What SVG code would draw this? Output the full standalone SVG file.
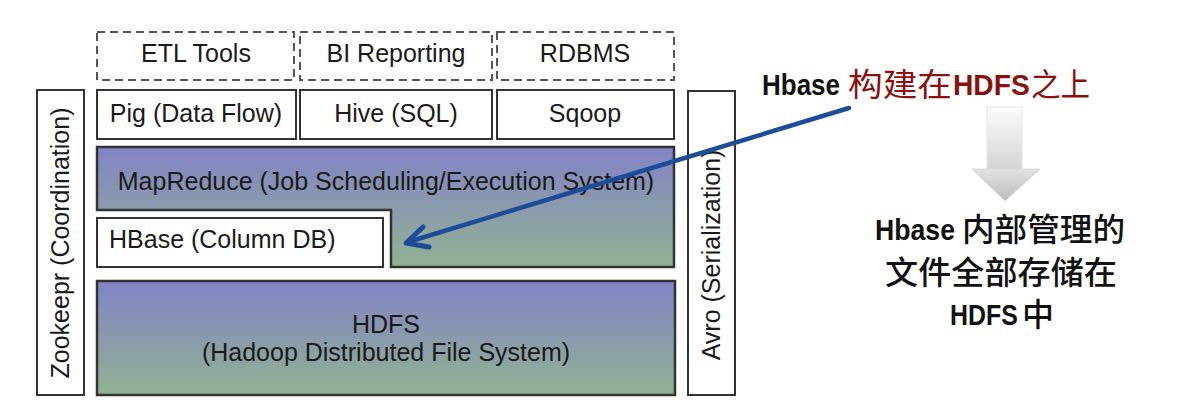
<svg xmlns="http://www.w3.org/2000/svg" width="1180" height="414" viewBox="0 0 1180 414">
<defs>
<style>
.lbl{font-family:"Liberation Sans",Arial,sans-serif;font-size:25px;fill:#1a1a1a}
.mid{text-anchor:middle}
.dash{fill:#fff;stroke:#555;stroke-width:2;stroke-dasharray:8 5}
.box{fill:#fff;stroke:#333;stroke-width:2}
.layer{fill:url(#lg);stroke:#333;stroke-width:2.5}
.cjk{font-family:"Liberation Sans","Noto Sans CJK SC",sans-serif}
.bl{font-weight:bold;font-size:30px}
</style>
<linearGradient id="lg" x1="0" y1="0" x2="0" y2="1">
<stop offset="0" stop-color="#8283c6"/>
<stop offset="1" stop-color="#91b292"/>
</linearGradient>
<linearGradient id="shaft" x1="0" y1="0" x2="0" y2="1">
<stop offset="0" stop-color="#fbfbfb"/>
<stop offset="1" stop-color="#d4d4d4"/>
</linearGradient>
<linearGradient id="head" x1="0" y1="0" x2="0" y2="1">
<stop offset="0" stop-color="#e2e2e2"/>
<stop offset="1" stop-color="#bdbdbd"/>
</linearGradient>
</defs>
<rect width="1180" height="414" fill="#fff"/>

<g id="etl"><rect class="dash" x="97" y="32" width="197" height="48"/><text class="lbl mid" x="196" y="62">ETL Tools</text></g>
<g id="bi"><rect class="dash" x="300" y="32" width="192" height="48"/><text class="lbl mid" x="396" y="62">BI Reporting</text></g>
<g id="rdbms"><rect class="dash" x="497" y="32" width="177" height="48"/><text class="lbl mid" x="585" y="62">RDBMS</text></g>

<g id="pig"><rect class="box" x="97" y="90" width="199" height="49"/><text class="lbl mid" x="196" y="122">Pig (Data Flow)</text></g>
<g id="hive"><rect class="box" x="300" y="90" width="192" height="49"/><text class="lbl mid" x="396" y="122">Hive (SQL)</text></g>
<g id="sqoop"><rect class="box" x="497" y="90" width="177" height="49"/><text class="lbl mid" x="585" y="122">Sqoop</text></g>

<g id="mapreduce"><path class="layer" d="M97,147 H674 V267 H391 V210 H97 Z"/><text class="lbl mid" x="386" y="190">MapReduce (Job Scheduling/Execution System)</text></g>
<g id="hbase"><rect class="box" x="97" y="218" width="286" height="49"/><text class="lbl" x="109" y="248">HBase (Column DB)</text></g>
<g id="hdfs"><rect class="layer" x="97" y="281" width="578" height="114"/><text class="lbl mid" x="386" y="333">HDFS</text><text class="lbl mid" x="386" y="361">(Hadoop Distributed File System)</text></g>

<g id="zookeeper"><rect class="box" x="37" y="90" width="47" height="305"/><text class="lbl mid" transform="translate(69,243) rotate(-90)">Zookeepr (Coordination)</text></g>
<g id="avro"><rect class="box" x="688" y="91" width="47" height="304"/><text class="lbl mid" transform="translate(720,255) rotate(-90)">Avro (Serialization)</text></g>

<g id="connectors">
<path d="M849,108 L408,242" fill="none" stroke="#1d4c98" stroke-width="4.5" stroke-linecap="round"/>
<path d="M423,227 L406,243 L429,247" fill="none" stroke="#1d4c98" stroke-width="5" stroke-linecap="round" stroke-linejoin="round"/>
</g>

<g id="note1">
<text class="cjk bl" transform="translate(762,95) scale(0.867,1)" fill="#111">Hbase</text>
<text class="cjk" x="848" y="96" font-size="32" fill="#8b1010" textLength="104" lengthAdjust="spacingAndGlyphs">构建在</text>
<text class="cjk bl" transform="translate(953,95) scale(0.94,1)" fill="#8b1010">HDFS</text>
<text class="cjk" x="1031" y="96" font-size="32" fill="#8b1010" textLength="59" lengthAdjust="spacingAndGlyphs">之上</text>
</g>

<g id="downarrow">
<rect x="987" y="107" width="35" height="63" fill="url(#shaft)" stroke="#e6e6e6" stroke-width="1"/>
<polygon points="972,169 1040,169 1005,201" fill="url(#head)" stroke="#d8d8d8" stroke-width="1"/>
</g>

<g id="note2">
<text class="cjk bl" transform="translate(875,240) scale(0.889,1)" fill="#111">Hbase</text>
<text class="cjk" x="962" y="241" font-size="32" fill="#111" font-weight="500" textLength="163" lengthAdjust="spacingAndGlyphs">内部管理的</text>
<text class="cjk" x="885" y="284" font-size="32" fill="#111" font-weight="500" textLength="232" lengthAdjust="spacingAndGlyphs">文件全部存储在</text>
<text class="cjk bl" transform="translate(950,325) scale(0.83,1)" fill="#111">HDFS</text>
<text class="cjk" x="1022" y="326" font-size="32" fill="#111" font-weight="500">中</text>
</g>
</svg>
